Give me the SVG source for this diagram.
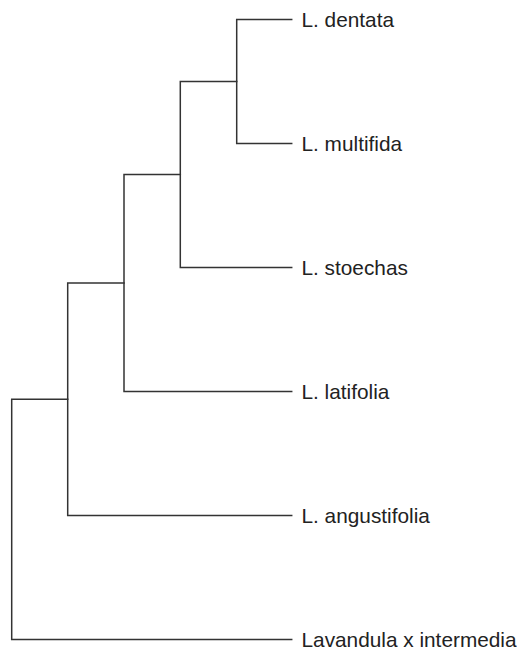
<svg xmlns="http://www.w3.org/2000/svg" width="517" height="651" viewBox="0 0 517 651">
<style>
.e{fill:none;stroke:#333;stroke-width:1.5;stroke-linecap:square}
.t{font-family:"Liberation Sans",Arial,sans-serif;font-size:20.8px;fill:#222}
</style>
<rect width="517" height="651" fill="#fff"/>
<g id="edges">
<path class="e" d="M236.7,19.5V143.5M236.7,19.5H291.7M236.7,143.5H291.7"/>
<path class="e" d="M180.3,81.5V267.5M180.3,81.5H236.7M180.3,267.5H291.7"/>
<path class="e" d="M124,174.5V391.5M124,174.5H180.3M124,391.5H291.7"/>
<path class="e" d="M67.7,283V515.5M67.7,283H124M67.7,515.5H291.7"/>
<path class="e" d="M11.7,399.2V639.5M11.7,399.2H67.7M11.7,639.5H291.7"/>
</g>
<g id="n-dentata"><text class="t" x="301.5" y="27">L. dentata</text></g>
<g id="n-multifida"><text class="t" x="301.5" y="151">L. multifida</text></g>
<g id="n-stoechas"><text class="t" x="301.5" y="275">L. stoechas</text></g>
<g id="n-latifolia"><text class="t" x="301.5" y="399">L. latifolia</text></g>
<g id="n-angustifolia"><text class="t" x="301.5" y="523">L. angustifolia</text></g>
<g id="n-intermedia"><text class="t" x="301.5" y="647">Lavandula x intermedia</text></g>
</svg>
